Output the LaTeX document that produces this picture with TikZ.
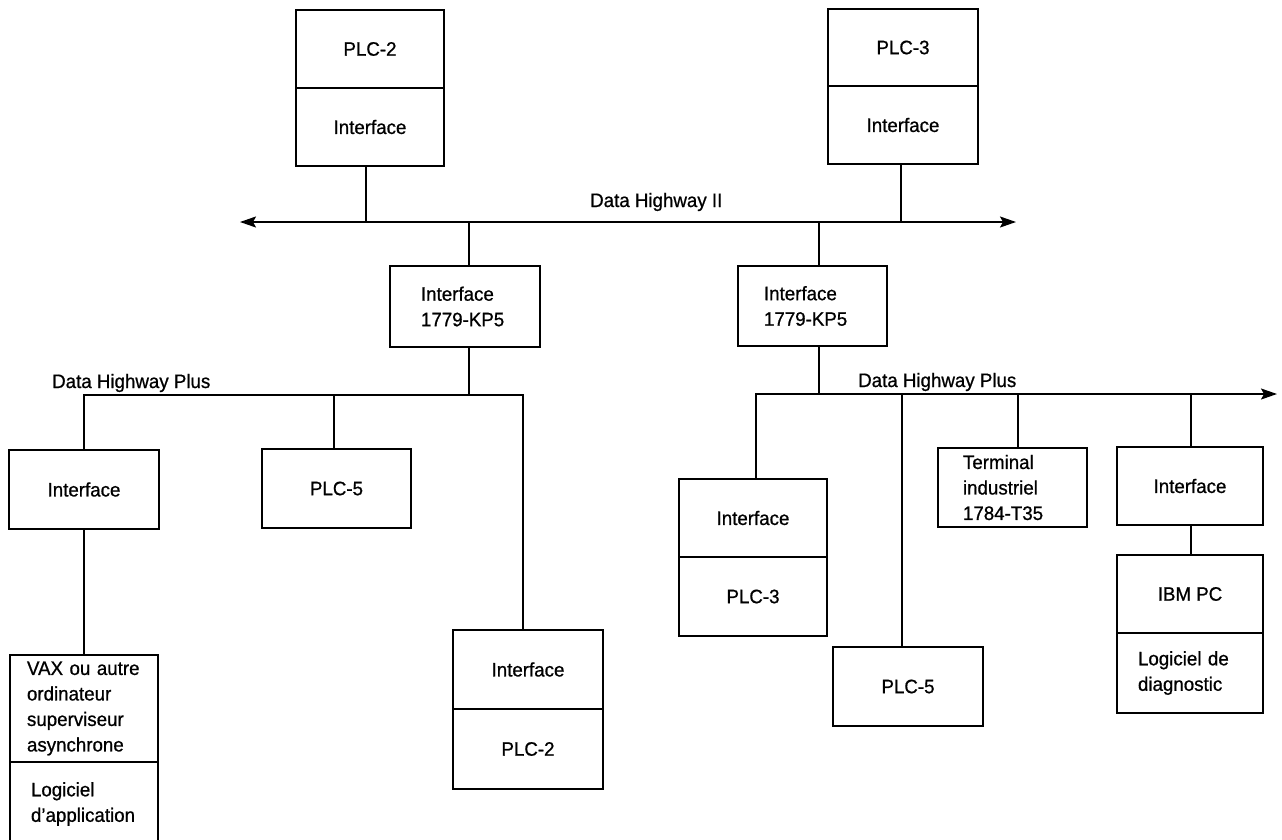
\documentclass[tikz,border=0pt]{standalone}
\usepackage{fontspec}
\setmainfont{Liberation Sans}[FakeStretch=0.96,FakeBold=0.8]
\usetikzlibrary{arrows.meta}
\begin{document}
\begin{tikzpicture}[x=1pt,y=-1pt,
  every node/.style={font=\fontsize{19.5}{25.5}\selectfont},
  box/.style={draw, line width=1.7pt, inner sep=0pt, align=center},
  lbox/.style={draw, line width=1.7pt, inner ysep=0pt, align=left},
  sz/.style 2 args={minimum width=#1pt, minimum height=#2pt},
  wire/.style={line width=1.5pt},
  bus/.style={line width=1.7pt},
  tip/.style={-{Stealth[length=16pt,width=11pt,inset=3pt]}},
  lab/.style={inner sep=0pt, anchor=base west}]
\useasboundingbox (0,0) rectangle (1282,839);
\clip (0,0) rectangle (1282,839);

% top controllers
\node[box, sz={148}{78}] (plc2) at (370,49) {PLC-2};
\node[box, sz={148}{78}] (plc2i) at (370,127) {Interface};
\node[box, sz={150}{77}] (plc3) at (903,47.5) {PLC-3};
\node[box, sz={150}{78}] (plc3i) at (903,125) {Interface};

% Data Highway II
\coordinate (dhL) at (240,222);
\coordinate (dhR) at (1016,222);
\draw[bus, {Stealth[length=16pt,width=11pt,inset=3pt]}-{Stealth[length=16pt,width=11pt,inset=3pt]}] (dhL) -- (dhR);
\node[lab] (dh2) at (590,207) {Data Highway II};

% KP5 interfaces
\node[lbox, sz={150}{81}, inner xsep=31pt, text width=88pt] (kp5l) at (465,306.5) {Interface\\1779-KP5};
\node[lbox, sz={149}{80}, inner xsep=26pt, text width=97pt] (kp5r) at (812.5,306) {Interface\\1779-KP5};

\draw[wire] ([xshift=-4pt]plc2i.south) -- ([xshift=-4pt]plc2i.south |- dhL);
\draw[wire] ([xshift=-2pt]plc3i.south) -- ([xshift=-2pt]plc3i.south |- dhL);
\draw[wire] ([xshift=4pt]kp5l.north |- dhL) -- ([xshift=4pt]kp5l.north);
\draw[wire] ([xshift=6.5pt]kp5r.north |- dhL) -- ([xshift=6.5pt]kp5r.north);

% left Data Highway Plus
\coordinate (dplA) at (85,395);
\coordinate (dplB) at (523,395);
\node[lab] (dhp1) at (52,388) {Data Highway Plus};

\node[box, sz={150}{79}] (ifl) at (84,489.5) {Interface};
\node[box, sz={149}{79}] (plc5l) at (336.5,488.5) {PLC-5};
\node[lbox, sz={148}{107}, inner xsep=17pt, text width=114pt] (vax) at (84,708.5) {VAX ou autre\\ordinateur\\superviseur\\asynchrone};
\node[lbox, sz={148}{84}, inner xsep=21pt, text width=106pt] (logapp) at (84,804) {Logiciel\\d'application};
\node[box, sz={150}{79}] (ifb) at (528,669.5) {Interface};
\node[box, sz={150}{80}] (plc2b) at (528,749) {PLC-2};

\draw[bus] (ifl.north) -- (ifl.north |- dplA) -- (dplB) -- ([xshift=-5pt]ifb.north);
\draw[wire] ([xshift=4pt]kp5l.south) -- ([xshift=4pt]kp5l.south |- dplA);
\draw[wire] ([xshift=-2.5pt]plc5l.north |- dplA) -- ([xshift=-2.5pt]plc5l.north);
\draw[wire] (ifl.south) -- (vax.north);

% right Data Highway Plus
\coordinate (dprE) at (1277,394);
\node[lab] (dhp2) at (858,387) {Data Highway Plus};

\node[box, sz={148}{78}] (ifr3) at (753,518) {Interface};
\node[box, sz={148}{79}] (plc3b) at (753,596.5) {PLC-3};
\node[box, sz={150}{79}] (plc5r) at (908,686.5) {PLC-5};
\node[lbox, sz={149}{79}, inner xsep=25pt, text width=99pt] (term) at (1012.5,487.5) {Terminal\\industriel\\1784-T35};
\node[box, sz={146}{78}] (ifr) at (1190,486) {Interface};
\node[box, sz={146}{78}] (ibm) at (1190,594) {IBM PC};
\node[lbox, sz={146}{80}, inner xsep=21pt, text width=104pt] (diag) at (1190,673) {Logiciel de\\diagnostic};

\draw[bus, tip] ([xshift=3pt]ifr3.north) |- (dprE);
\draw[wire] ([xshift=6.5pt]kp5r.south) -- ([xshift=6.5pt]kp5r.south |- dprE);
\draw[wire] ([xshift=-6pt]plc5r.north |- dprE) -- ([xshift=-6pt]plc5r.north);
\draw[wire] ([xshift=5.5pt]term.north |- dprE) -- ([xshift=5.5pt]term.north);
\draw[wire] ([xshift=1pt]ifr.north |- dprE) -- ([xshift=1pt]ifr.north);
\draw[wire] ([xshift=1pt]ifr.south) -- ([xshift=1pt]ibm.north);
\end{tikzpicture}
\end{document}
